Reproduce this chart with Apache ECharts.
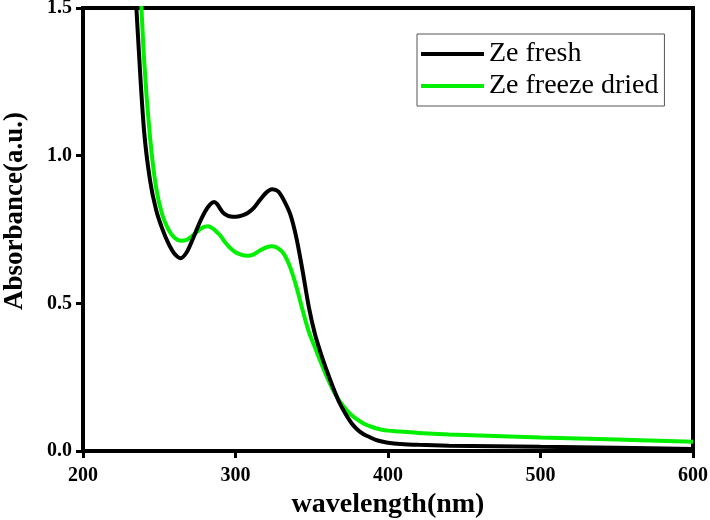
<!DOCTYPE html>
<html>
<head>
<meta charset="utf-8">
<script src="https://cdn.jsdelivr.net/npm/echarts@6/dist/echarts.min.js"></script>
<style>
html,body{margin:0;padding:0;background:#fff;}
#chart{width:710px;height:520px;}
</style>
</head>
<body>
<div id="chart"></div>
<script>
// wavelength (nm)
const wavelength = [232, 236, 240, 244, 248, 252, 256, 260, 264, 268, 272, 276, 278, 280, 282, 284, 286, 288, 290, 292, 294, 296, 300, 304, 308, 312, 316, 320, 324, 328, 332, 336, 340, 344, 348, 352, 356, 360, 364, 368, 372, 376, 380, 384, 388, 392, 396, 400, 408, 420, 440, 470, 500, 550, 600];
// Ze fresh (black)
const freshAbs = [1.78, 1.41, 1.087, 0.915, 0.815, 0.752, 0.703, 0.668, 0.653, 0.673, 0.718, 0.768, 0.79, 0.81, 0.826, 0.838, 0.843, 0.836, 0.82, 0.806, 0.799, 0.795, 0.793, 0.797, 0.806, 0.823, 0.85, 0.874, 0.886, 0.879, 0.846, 0.8, 0.72, 0.61, 0.49, 0.398, 0.33, 0.27, 0.215, 0.165, 0.127, 0.095, 0.072, 0.057, 0.047, 0.038, 0.032, 0.028, 0.024, 0.021, 0.018, 0.016, 0.014, 0.011, 0.007];
// Ze freeze dried (green)
const driedAbs = [2.2, 1.77, 1.33, 1.06, 0.89, 0.80, 0.75, 0.722, 0.712, 0.715, 0.73, 0.748, 0.755, 0.76, 0.761, 0.757, 0.75, 0.74, 0.73, 0.715, 0.702, 0.69, 0.673, 0.664, 0.661, 0.666, 0.679, 0.689, 0.693, 0.686, 0.665, 0.62, 0.555, 0.477, 0.405, 0.352, 0.3, 0.25, 0.206, 0.171, 0.144, 0.122, 0.106, 0.093, 0.084, 0.077, 0.072, 0.069, 0.066, 0.061, 0.056, 0.051, 0.046, 0.039, 0.031];
const seriesNames = ['Ze fresh', 'Ze freeze dried'];
const xTicks = [200, 300, 400, 500, 600];
const yTicks = [0.0, 0.5, 1.0, 1.5];

const serif = "'Liberation Serif','Times New Roman',serif";
const chart = echarts.init(document.getElementById('chart'), null, {renderer:'canvas'});
function pairs(xs, ys){ return xs.map((x,i)=>[x, ys[i]]); }

chart.setOption({
  animation: false,
  backgroundColor: '#fff',
  grid: {left: 83, right: 17, top: 8, bottom: 69, show: true, borderColor: '#000', borderWidth: 4,
         containLabel: false, outerBoundsMode: 'none'},
  legend: {
    data: seriesNames,
    orient: 'vertical',
    left: 417, top: 34,
    padding: [6, 6, 6, 4],
    itemGap: 4,
    itemWidth: 63, itemHeight: 4,
    icon: 'rect',
    borderColor: '#555', borderWidth: 1,
    textStyle: {fontFamily: serif, fontSize: 28, color: '#000', lineHeight: 26}
  },
  xAxis: {
    type: 'value', min: xTicks[0], max: xTicks[xTicks.length-1], interval: 100,
    name: 'wavelength(nm)', nameLocation: 'middle', nameGap: 38,
    nameTextStyle: {fontFamily: serif, fontSize: 28, fontWeight: 'bold', color: '#000'},
    axisLine: {lineStyle: {color: '#000', width: 4}},
    axisTick: {show: true, inside: false, length: 7, lineStyle: {width: 3, color: '#000'}},
    axisLabel: {margin: 15, fontFamily: serif, fontSize: 20, fontWeight: 'bold', color: '#000'},
    splitLine: {show: false}
  },
  yAxis: {
    type: 'value', min: yTicks[0], max: yTicks[yTicks.length-1], interval: 0.5,
    name: 'Absorbance(a.u.)', nameLocation: 'middle', nameGap: 54, nameRotate: 90,
    nameTextStyle: {fontFamily: serif, fontSize: 27, fontWeight: 'bold', color: '#000', padding: [0, 0, 0, 37]},
    axisLine: {lineStyle: {color: '#000', width: 4}},
    axisTick: {show: true, inside: false, length: 7, lineStyle: {width: 3, color: '#000'}},
    axisLabel: {margin: 11, fontFamily: serif, fontSize: 20, fontWeight: 'bold', color: '#000',
      formatter: v => v.toFixed(1)},
    splitLine: {show: false}
  },
  series: [
    {name: seriesNames[0], type: 'line', data: pairs(wavelength, freshAbs), showSymbol: false, symbol: 'none',
     smooth: 0.3, clip: true, lineStyle: {color: '#000', width: 4}, itemStyle: {color: '#000'}, z: 3},
    {name: seriesNames[1], type: 'line', data: pairs(wavelength, driedAbs), showSymbol: false, symbol: 'none',
     smooth: 0.3, clip: true, lineStyle: {color: '#00f000', width: 4}, itemStyle: {color: '#00f000'}, z: 2}
  ]
});
</script>
</body>
</html>
